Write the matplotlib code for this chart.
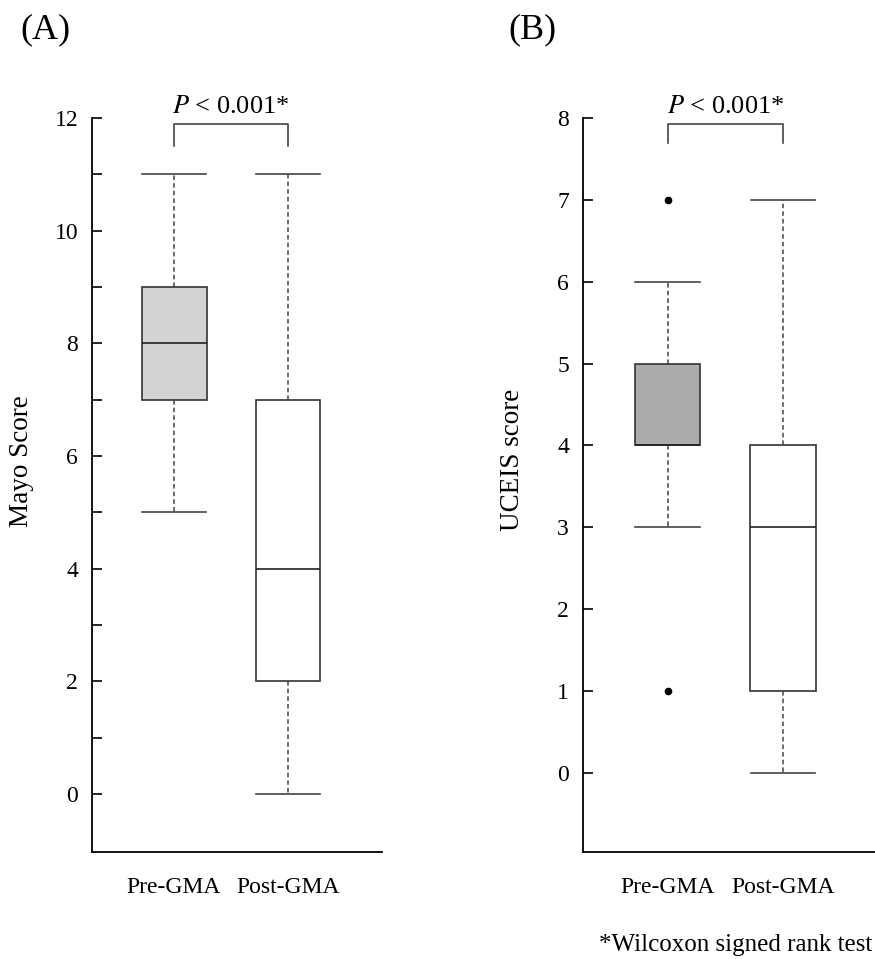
import matplotlib
matplotlib.use("Agg")
import matplotlib.pyplot as plt

plt.rcParams['font.family'] = ['Liberation Serif', 'DejaVu Serif']
plt.rcParams['mathtext.fontset'] = 'stix'

groups = ["Pre-GMA", "Post-GMA"]

# Mayo score box stats (whislo, q1, med, q3, whishi)
mayo_whislo = [5, 0]
mayo_q1 = [7, 2]
mayo_med = [8, 4]
mayo_q3 = [9, 7]
mayo_whishi = [11, 11]
mayo_fliers = [[], []]

# UCEIS score box stats
uceis_whislo = [3, 0]
uceis_q1 = [4, 1]
uceis_med = [4, 3]
uceis_q3 = [5, 4]
uceis_whishi = [6, 7]
uceis_fliers = [[7, 1], []]

pre_colors = ["#d3d3d3", "#ababab"]


def make_stats(lo, q1, med, q3, hi, fl):
    return [dict(whislo=lo[i], q1=q1[i], med=med[i], q3=q3[i], whishi=hi[i],
                 fliers=fl[i], label=groups[i]) for i in range(len(groups))]


def draw_panel(ax, stats, fill, ylabel, ylim, yticks, minor, ylab_y):
    bp = ax.bxp(stats, positions=[1, 2], widths=0.57, patch_artist=True,
                showfliers=True,
                boxprops=dict(edgecolor="#333333", linewidth=1.2),
                medianprops=dict(color="#222222", linewidth=1.2),
                whiskerprops=dict(color="#444444", linewidth=1.1, linestyle=(0, (3, 2))),
                capprops=dict(color="#444444", linewidth=1.2),
                flierprops=dict(marker="o", markerfacecolor="black",
                                markeredgecolor="black", markersize=4.5))
    bp["boxes"][0].set_facecolor(fill)
    bp["boxes"][1].set_facecolor("white")
    for cap in bp["caps"]:
        x = cap.get_xdata()
        c = (x[0] + x[1]) / 2
        cap.set_xdata([c - 0.28, c + 0.28])

    ax.set_ylim(*ylim)
    ax.set_yticks(yticks)
    ax.set_yticks(minor, minor=True)
    ax.tick_params(axis="y", which="both", direction="in", length=7, width=1.2,
                   labelsize=17, pad=10)
    ax.tick_params(axis="x", length=0, labelsize=17, pad=18)
    ax.set_xticks([1, 2])
    ax.set_xticklabels(groups)
    for s in ["top", "right"]:
        ax.spines[s].set_visible(False)
    ax.spines["left"].set_linewidth(1.3)
    ax.spines["bottom"].set_linewidth(1.3)
    ax.spines["left"].set_bounds(ylim[0], yticks[-1])
    ax.set_ylabel(ylabel, fontsize=19.5)
    ax.yaxis.set_label_coords(-0.2, ylab_y)


fig = plt.figure(figsize=(8.75, 9.59), dpi=100)

ax1 = fig.add_axes([92 / 875, 1 - 852 / 959, 290 / 875, 734 / 959])
ax1.set_xlim(0.28, 2.825)
draw_panel(ax1, make_stats(mayo_whislo, mayo_q1, mayo_med, mayo_q3, mayo_whishi, mayo_fliers),
           pre_colors[0], "Mayo Score", (-1.03, 12), [0, 2, 4, 6, 8, 10, 12],
           [1, 3, 5, 7, 9, 11], 0.533)

ax2 = fig.add_axes([583 / 875, 1 - 852 / 959, 292 / 875, 734 / 959])
ax2.set_xlim(0.268, 2.797)
draw_panel(ax2, make_stats(uceis_whislo, uceis_q1, uceis_med, uceis_q3, uceis_whishi, uceis_fliers),
           pre_colors[1], "UCEIS score", (-0.965, 8), list(range(0, 9)), [], 0.534)

# significance brackets
for ax, top, drop in [(ax1, 11.89, 11.5), (ax2, 7.93, 7.7)]:
    ax.plot([1, 1, 2, 2], [drop, top, top, drop], color="#444444", lw=1.2, clip_on=False)
    ax.text(1.5, top + (top - drop) * 0.3, r"$P$ < 0.001*", ha="center", va="bottom",
            fontsize=19, clip_on=False)

fig.text(20 / 875, 1 - 30 / 959, "(A)", fontsize=26, va="center", ha="left")
fig.text(508 / 875, 1 - 30 / 959, "(B)", fontsize=26, va="center", ha="left")
fig.text(872 / 875, 1 - 945 / 959, "*Wilcoxon signed rank test", fontsize=18,
         ha="right", va="center")

fig.savefig("out.png", dpi=100)
